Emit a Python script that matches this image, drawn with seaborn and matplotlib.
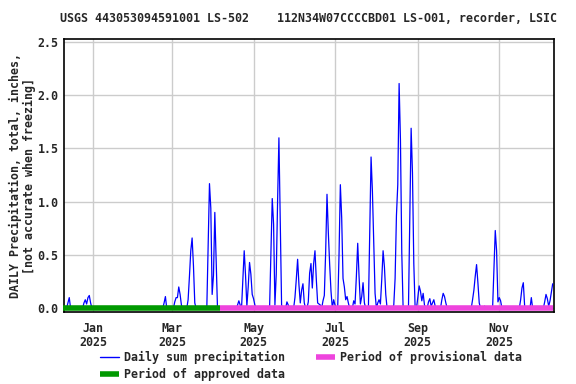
import matplotlib
matplotlib.use("Agg")
import matplotlib.pyplot as plt
from matplotlib.lines import Line2D
import pandas as pd
import seaborn as sns

# ---------------- data ----------------
TITLE = "USGS 443053094591001 LS-502    112N34W07CCCCBD01 LS-O01, recorder, LSIC"
YLABEL = "DAILY Precipitation, total, inches,\n[not accurate when freezing]"

series_start = "2024-12-10"
series_end = "2025-12-11"

rain_dates = [
    "2024-12-13", "2024-12-14",
    "2024-12-25", "2024-12-26", "2024-12-27", "2024-12-28", "2024-12-29", "2024-12-30",
    "2025-02-23", "2025-02-24",
    "2025-03-03", "2025-03-04", "2025-03-05", "2025-03-06", "2025-03-07", "2025-03-08",
    "2025-03-13", "2025-03-14", "2025-03-15", "2025-03-16", "2025-03-17", "2025-03-18",
    "2025-03-28", "2025-03-29", "2025-03-30", "2025-03-31", "2025-04-01", "2025-04-02", "2025-04-03",
    "2025-04-19", "2025-04-20", "2025-04-21",
    "2025-04-23", "2025-04-24", "2025-04-25", "2025-04-26", "2025-04-27", "2025-04-28",
    "2025-04-29", "2025-04-30", "2025-05-01", "2025-05-02",
    "2025-05-14", "2025-05-15", "2025-05-16", "2025-05-17", "2025-05-18", "2025-05-19",
    "2025-05-20", "2025-05-21", "2025-05-22",
    "2025-05-26", "2025-05-27",
    "2025-06-01", "2025-06-02", "2025-06-03", "2025-06-04", "2025-06-05", "2025-06-06",
    "2025-06-07", "2025-06-08",
    "2025-06-11", "2025-06-12", "2025-06-13", "2025-06-14", "2025-06-15", "2025-06-16",
    "2025-06-17", "2025-06-18", "2025-06-19", "2025-06-20",
    "2025-06-22", "2025-06-23", "2025-06-24", "2025-06-25", "2025-06-26", "2025-06-27",
    "2025-06-28", "2025-06-30", "2025-07-01",
    "2025-07-04", "2025-07-05", "2025-07-06", "2025-07-07", "2025-07-08", "2025-07-09",
    "2025-07-10", "2025-07-11",
    "2025-07-15", "2025-07-16", "2025-07-17", "2025-07-18", "2025-07-19", "2025-07-20",
    "2025-07-21", "2025-07-22", "2025-07-23",
    "2025-07-27", "2025-07-28", "2025-07-29", "2025-07-30", "2025-07-31",
    "2025-08-02", "2025-08-03", "2025-08-04", "2025-08-05", "2025-08-06", "2025-08-07",
    "2025-08-08",
    "2025-08-14", "2025-08-15", "2025-08-16", "2025-08-17", "2025-08-18", "2025-08-19",
    "2025-08-20",
    "2025-08-26", "2025-08-27", "2025-08-28", "2025-08-29",
    "2025-09-01", "2025-09-02", "2025-09-03", "2025-09-04", "2025-09-05", "2025-09-06",
    "2025-09-09", "2025-09-10", "2025-09-11", "2025-09-12", "2025-09-13", "2025-09-14",
    "2025-09-19", "2025-09-20", "2025-09-21", "2025-09-22",
    "2025-10-12", "2025-10-13", "2025-10-14", "2025-10-15", "2025-10-16", "2025-10-17",
    "2025-10-21",
    "2025-10-28", "2025-10-29", "2025-10-30", "2025-10-31", "2025-11-01", "2025-11-02",
    "2025-11-17", "2025-11-18", "2025-11-19", "2025-11-20",
    "2025-11-25",
    "2025-12-05", "2025-12-06", "2025-12-07", "2025-12-08", "2025-12-09", "2025-12-10",
    "2025-12-11",
]
rain_values = [
    0.05, 0.10,
    0.05, 0.08, 0.04, 0.10, 0.12, 0.05,
    0.05, 0.11,
    0.06, 0.10, 0.10, 0.20, 0.13, 0.03,
    0.08, 0.30, 0.54, 0.66, 0.40, 0.05,
    0.58, 1.17, 0.94, 0.13, 0.31, 0.90, 0.45,
    0.03, 0.07, 0.03,
    0.27, 0.54, 0.31, 0.02, 0.20, 0.43,
    0.32, 0.13, 0.09, 0.03,
    0.51, 1.03, 0.79, 0.03, 0.32, 1.00,
    1.60, 0.83, 0.03,
    0.06, 0.03,
    0.10, 0.27, 0.46, 0.22, 0.05, 0.17,
    0.23, 0.05,
    0.06, 0.33, 0.42, 0.19, 0.42, 0.54,
    0.27, 0.05, 0.04, 0.03,
    0.07, 0.12, 0.53, 1.07, 0.71, 0.41,
    0.16, 0.08, 0.03,
    0.50, 1.16, 0.85, 0.28, 0.20, 0.08,
    0.11, 0.05,
    0.07, 0.04, 0.30, 0.61, 0.30, 0.04,
    0.11, 0.24, 0.05,
    0.70, 1.42, 1.10, 0.60, 0.14,
    0.05, 0.08, 0.04, 0.27, 0.54, 0.39,
    0.13,
    0.03, 0.28, 0.87, 1.16, 2.11, 1.58,
    0.52,
    0.84, 1.69, 1.27, 0.42,
    0.10, 0.21, 0.16, 0.07, 0.14, 0.03,
    0.06, 0.09, 0.02, 0.05, 0.08, 0.02,
    0.08, 0.14, 0.11, 0.05,
    0.08, 0.17, 0.30, 0.41, 0.24, 0.05,
    0.02,
    0.36, 0.73, 0.54, 0.06, 0.10, 0.07,
    0.08, 0.19, 0.24, 0.02,
    0.10,
    0.06, 0.13, 0.09, 0.02, 0.07, 0.15,
    0.23,
]

approved_period = ["2024-12-09", "2025-04-06"]
provisional_period = ["2025-04-06", "2025-12-11"]

x_ticks = ["2025-01-01", "2025-03-01", "2025-05-01", "2025-07-01", "2025-09-01", "2025-11-01"]
x_tick_labels = ["Jan\n2025", "Mar\n2025", "May\n2025", "Jul\n2025", "Sep\n2025", "Nov\n2025"]
y_ticks = [0.0, 0.5, 1.0, 1.5, 2.0, 2.5]

legend_labels = ["Daily sum precipitation", "Period of approved data", "Period of provisional data"]

# ---------------- build table ----------------
days = pd.date_range(series_start, series_end, freq="D")
df = pd.DataFrame({"date": days, "precip": 0.0})
df = df.set_index("date")
df.loc[pd.to_datetime(rain_dates), "precip"] = rain_values
df = df.reset_index()

# ---------------- style ----------------
sns.set_style("white")
FONT = ["DejaVu Sans Mono"]
plt.rcParams["font.family"] = FONT
plt.rcParams["font.weight"] = "bold"
FS = 8.4

BLUE = "#0000ff"
GREEN = "#009900"
MAGENTA = "#ee44dd"

W, H = 576, 384
fig = plt.figure(figsize=(W / 100, H / 100), dpi=100)
left, right, top, bottom = 64.3, 554.3, 39.3, 312.0
ax = fig.add_axes([left / W, 1 - bottom / H, (right - left) / W, (bottom - top) / H])

sns.lineplot(data=df, x="date", y="precip", ax=ax, color=BLUE, lw=0.9,
             estimator=None, legend=False, zorder=3)

ax.plot(pd.to_datetime(approved_period), [0, 0], color=GREEN, lw=4,
        solid_capstyle="butt", zorder=4, clip_on=False)
ax.plot(pd.to_datetime(provisional_period), [0, 0], color=MAGENTA, lw=4,
        solid_capstyle="butt", zorder=4, clip_on=False)

ax.set_xlim(pd.Timestamp("2024-12-10 07:00"), pd.Timestamp("2025-12-12 05:00"))
ax.set_ylim(-0.035, 2.525)

ax.set_xticks(pd.to_datetime(x_ticks))
ax.set_xticklabels(x_tick_labels, fontsize=FS, fontweight="bold", linespacing=1.1)
ax.set_yticks(y_ticks)
ax.set_yticklabels([f"{v:.1f}" for v in y_ticks], fontsize=FS, fontweight="bold")
ax.tick_params(axis="both", direction="in", length=4, width=1, color="black")
ax.tick_params(axis="x", pad=7)
ax.tick_params(axis="y", pad=4)

ax.grid(True, color="#cccccc", lw=1)
ax.set_axisbelow(True)
for s in ax.spines.values():
    s.set_color("black")
    s.set_linewidth(1.2)
    s.set_visible(True)
ax.set_xlabel("")
ax.set_ylabel("")

fig.text(309 / W, 1 - 19 / H, TITLE, ha="center", va="center",
         fontsize=FS, fontweight="bold")
fig.text(22.5 / W, 1 - 176 / H, YLABEL, ha="center", va="center", rotation=90,
         multialignment="center", fontsize=FS, fontweight="bold", linespacing=1.1)

handles = [
    Line2D([], [], color=BLUE, lw=1),
    Line2D([], [], color=GREEN, lw=4, solid_capstyle="butt"),
    Line2D([], [], color=MAGENTA, lw=4, solid_capstyle="butt"),
]
fig.legend(handles, legend_labels, loc="upper left", bbox_to_anchor=(100 / W, 1 - 351 / H),
           ncol=2, frameon=False, handlelength=1.6, handletextpad=0.5,
           columnspacing=2.6, labelspacing=0.35, borderpad=0, borderaxespad=0,
           prop={"family": FONT, "weight": "bold", "size": FS})

fig.savefig("out.png", dpi=100, facecolor="white")
